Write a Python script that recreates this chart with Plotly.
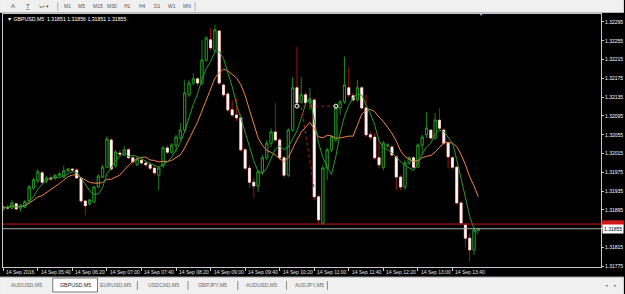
import plotly.graph_objects as go
import pandas as pd

# ---------------- data (GBPUSD, M5, 14 Sep 2016) ----------------
opens = [1.31897, 1.31901, 1.31899, 1.31908, 1.31899, 1.31901, 1.31914, 1.31942, 1.31957, 1.31974,
         1.31957, 1.31963, 1.31963, 1.31969, 1.31965, 1.31978, 1.31982, 1.31980, 1.31963, 1.31914,
         1.31908, 1.31912, 1.31944, 1.31965, 1.31986, 1.32044, 1.31989, 1.32016, 1.32012, 1.32023,
         1.32006, 1.31991, 1.32001, 1.31995, 1.31991, 1.31984, 1.31969, 1.31989, 1.32027, 1.32018,
         1.32033, 1.32048, 1.32065, 1.32140, 1.32165, 1.32174, 1.32165, 1.32214, 1.32257, 1.32235,
         1.32276, 1.32161, 1.32142, 1.32108, 1.32097, 1.32091, 1.32023, 1.31984, 1.31954, 1.31946,
         1.31976, 1.32006, 1.32037, 1.32061, 1.32044, 1.32006, 1.31969, 1.32065, 1.32155, 1.32125,
         1.32140, 1.32123, 1.32129, 1.31923, 1.31867, 1.31984, 1.32023, 1.32044, 1.32112, 1.32125,
         1.32155, 1.32138, 1.32129, 1.32155, 1.32112, 1.32055, 1.32050, 1.32006, 1.31986, 1.32031,
         1.32029, 1.32008, 1.31965, 1.31944, 1.31995, 1.32006, 1.31986, 1.32033, 1.32055, 1.32065,
         1.32048, 1.32086, 1.32065, 1.32037, 1.32006, 1.31986, 1.31910, 1.31863, 1.31835, 1.31810,
         1.31851]
highs = [1.31904, 1.31906, 1.31916, 1.31910, 1.31908, 1.31916, 1.31948, 1.31963, 1.31982, 1.31978,
         1.31967, 1.31969, 1.31971, 1.31976, 1.31989, 1.31984, 1.31984, 1.31984, 1.31965, 1.31916,
         1.31918, 1.31946, 1.31971, 1.31991, 1.32052, 1.32048, 1.32023, 1.32023, 1.32031, 1.32027,
         1.32010, 1.32008, 1.32006, 1.31999, 1.31995, 1.31989, 1.31989, 1.32031, 1.32033, 1.32037,
         1.32055, 1.32080, 1.32172, 1.32172, 1.32186, 1.32178, 1.32257, 1.32265, 1.32282, 1.32289,
         1.32278, 1.32165, 1.32146, 1.32129, 1.32133, 1.32101, 1.32027, 1.31991, 1.31963, 1.31980,
         1.32012, 1.32044, 1.32069, 1.32123, 1.32048, 1.32010, 1.32069, 1.32178, 1.32242, 1.32178,
         1.32146, 1.32155, 1.32133, 1.31927, 1.31991, 1.32027, 1.32055, 1.32118, 1.32129, 1.32221,
         1.32199, 1.32144, 1.32172, 1.32159, 1.32140, 1.32061, 1.32059, 1.32044, 1.32042, 1.32037,
         1.32033, 1.32012, 1.31969, 1.32001, 1.32010, 1.32010, 1.32037, 1.32055, 1.32103, 1.32067,
         1.32101, 1.32112, 1.32069, 1.32042, 1.32010, 1.31991, 1.31914, 1.31867, 1.31846, 1.31857,
         1.31856]
lows = [1.31893, 1.31895, 1.31897, 1.31893, 1.31891, 1.31899, 1.31912, 1.31937, 1.31952, 1.31950,
        1.31952, 1.31957, 1.31959, 1.31965, 1.31963, 1.31976, 1.31976, 1.31961, 1.31910, 1.31884,
        1.31904, 1.31910, 1.31942, 1.31963, 1.31984, 1.31978, 1.31984, 1.32010, 1.32010, 1.32003,
        1.31993, 1.31989, 1.31991, 1.31986, 1.31980, 1.31969, 1.31937, 1.31984, 1.32014, 1.32014,
        1.32018, 1.32044, 1.32061, 1.32135, 1.32161, 1.32159, 1.32161, 1.32210, 1.32235, 1.32231,
        1.32161, 1.32135, 1.32103, 1.32093, 1.32084, 1.32018, 1.31980, 1.31942, 1.31920, 1.31933,
        1.31969, 1.32001, 1.32029, 1.32040, 1.32001, 1.31963, 1.31965, 1.32061, 1.32118, 1.32121,
        1.32118, 1.32108, 1.31916, 1.31867, 1.31863, 1.31959, 1.32018, 1.32040, 1.32097, 1.32121,
        1.32135, 1.32125, 1.32127, 1.32108, 1.32050, 1.32044, 1.32001, 1.31984, 1.31980, 1.32027,
        1.32008, 1.31937, 1.31937, 1.31937, 1.31991, 1.31984, 1.31984, 1.32014, 1.32048, 1.32044,
        1.32044, 1.32065, 1.32033, 1.31984, 1.31982, 1.31906, 1.31863, 1.31816, 1.31784, 1.31799,
        1.31851]
closes = [1.31901, 1.31899, 1.31910, 1.31897, 1.31904, 1.31912, 1.31944, 1.31959, 1.31976, 1.31954,
          1.31963, 1.31961, 1.31969, 1.31971, 1.31978, 1.31982, 1.31980, 1.31963, 1.31914, 1.31904,
          1.31916, 1.31944, 1.31967, 1.31986, 1.32046, 1.31982, 1.32018, 1.32014, 1.32023, 1.32006,
          1.31997, 1.32003, 1.31995, 1.31991, 1.31984, 1.31974, 1.31984, 1.32027, 1.32018, 1.32033,
          1.32050, 1.32065, 1.32144, 1.32165, 1.32174, 1.32165, 1.32214, 1.32261, 1.32240, 1.32278,
          1.32165, 1.32140, 1.32108, 1.32097, 1.32091, 1.32023, 1.31984, 1.31954, 1.31946, 1.31976,
          1.32006, 1.32037, 1.32061, 1.32044, 1.32006, 1.31969, 1.32065, 1.32155, 1.32123, 1.32140,
          1.32123, 1.32129, 1.31923, 1.31874, 1.31984, 1.32023, 1.32050, 1.32112, 1.32125, 1.32161,
          1.32140, 1.32129, 1.32155, 1.32112, 1.32055, 1.32050, 1.32006, 1.31991, 1.32037, 1.32033,
          1.32012, 1.31965, 1.31944, 1.31995, 1.32006, 1.31986, 1.32033, 1.32050, 1.32069, 1.32048,
          1.32086, 1.32069, 1.32037, 1.32008, 1.31986, 1.31910, 1.31867, 1.31835, 1.31810, 1.31852,
          1.31855]

symbol = "GBPUSD,M5"
ask_price = 1.31865
times = pd.date_range("2016-09-14 05:00", periods=len(opens), freq="5min")

tick_times = ["2016-09-14 05:00", "2016-09-14 05:40", "2016-09-14 06:20", "2016-09-14 07:00",
              "2016-09-14 07:40", "2016-09-14 08:20", "2016-09-14 09:00", "2016-09-14 09:40",
              "2016-09-14 10:20", "2016-09-14 11:00", "2016-09-14 11:40", "2016-09-14 12:20",
              "2016-09-14 13:00", "2016-09-14 13:40"]
tick_labels = ["14 Sep 2016", "14 Sep 05:40", "14 Sep 06:20", "14 Sep 07:00", "14 Sep 07:40",
               "14 Sep 08:20", "14 Sep 09:00", "14 Sep 09:40", "14 Sep 10:20", "14 Sep 11:00",
               "14 Sep 11:40", "14 Sep 12:20", "14 Sep 13:00", "14 Sep 13:40"]
price_ticks = [1.32295, 1.32255, 1.32215, 1.32175, 1.32135, 1.32095, 1.32055, 1.32015,
               1.31975, 1.31935, 1.31895, 1.31855, 1.31815, 1.31775]

trade_open_times = ["2016-09-14 10:40", "2016-09-14 10:45"]
trade_open_prices = [1.32116, 1.32114]
trade_close_times = ["2016-09-14 11:25", "2016-09-14 11:00"]
trade_close_prices = [1.32116, 1.31940]

periods = ["M1", "M5", "M15", "M30", "H1", "H4", "D1", "W1", "MN"]
tabs = ["AUDUSD,M5", "GBPUSD,M5", "EURUSD,M5", "USDCAD,M5", "GBPJPY,M5", "AUDUSD,M5", "AUDJPY,M5"]

# ---------------- geometry helpers (pixels -> paper) ----------------
L, R, T, B = 2, 603, 14, 267
def px(x):
    return (x - L) / (R - L)
def py(y):
    return (B - y) / (B - T)

FONT = "Liberation Sans"
GREEN = "#26a526"
RED = "#c81a1a"

close_s = pd.Series(closes)
ma_fast = close_s.rolling(5, min_periods=1).mean()
ma_slow = close_s.rolling(10, min_periods=1).mean()
body_top = [max(o, c) for o, c in zip(opens, closes)]
body_bot = [min(o, c) for o, c in zip(opens, closes)]

fig = go.Figure()
# full candles (wicks red / green)
fig.add_trace(go.Candlestick(
    x=times, open=opens, high=highs, low=lows, close=closes,
    increasing=dict(line=dict(color=GREEN, width=0.8), fillcolor="black"),
    decreasing=dict(line=dict(color=RED, width=0.8), fillcolor="white"),
    whiskerwidth=0, hoverinfo="skip", showlegend=False))
# bodies redrawn on top so bear bodies read white
fig.add_trace(go.Candlestick(
    x=times, open=opens, high=body_top, low=body_bot, close=closes,
    increasing=dict(line=dict(color=GREEN, width=0.8), fillcolor="black"),
    decreasing=dict(line=dict(color="#fbeaea", width=0.6), fillcolor="white"),
    whiskerwidth=0, hoverinfo="skip", showlegend=False))
fig.add_trace(go.Scatter(x=times, y=ma_slow, mode="lines",
                         line=dict(color="#ee8446", width=1), showlegend=False, hoverinfo="skip"))
fig.add_trace(go.Scatter(x=times, y=ma_fast, mode="lines",
                         line=dict(color="#2a9a2a", width=1), showlegend=False, hoverinfo="skip"))
for ot, op, ct, cp in zip(trade_open_times, trade_open_prices, trade_close_times, trade_close_prices):
    fig.add_trace(go.Scatter(x=[ot, ct], y=[op, cp], mode="lines",
                             line=dict(color="#c02020", width=1, dash="dot"),
                             showlegend=False, hoverinfo="skip"))
fig.add_trace(go.Scatter(x=[trade_open_times[0], trade_close_times[0]],
                         y=[trade_open_prices[0], trade_close_prices[0]], mode="markers",
                         marker=dict(symbol="circle-open", size=4, color="white", line=dict(width=1)),
                         showlegend=False, hoverinfo="skip"))

shapes = []
# ask / bid lines
shapes.append(dict(type="line", xref="paper", yref="y", x0=0, x1=1, y0=ask_price, y1=ask_price,
                   line=dict(color="#c81818", width=1)))
shapes.append(dict(type="line", xref="paper", yref="y", x0=0, x1=1, y0=closes[-1], y1=closes[-1],
                   line=dict(color="#a8b0b0", width=1)))
shapes.append(dict(type="rect", xref="paper", yref="y", x0=px(603.5), x1=px(626),
                   y0=ask_price - 0.00007, y1=ask_price + 0.00008,
                   fillcolor="#d01818", line=dict(width=0)))
# toolbar
shapes.append(dict(type="rect", xref="paper", yref="paper", x0=px(-1), x1=px(626), y0=py(12.5), y1=py(-1),
                   fillcolor="#f0f0f0", line=dict(width=0), layer="above"))
shapes.append(dict(type="line", xref="paper", yref="paper", x0=px(-1), x1=px(626), y0=py(12.5), y1=py(12.5),
                   line=dict(color="#b8b8b8", width=1), layer="above"))
for sx in [57, 195]:
    shapes.append(dict(type="line", xref="paper", yref="paper", x0=px(sx), x1=px(sx), y0=py(2), y1=py(11),
                       line=dict(color="#b0b0b0", width=1), layer="above"))
# tab bar
shapes.append(dict(type="rect", xref="paper", yref="paper", x0=px(-1), x1=px(626), y0=py(295), y1=py(277),
                   fillcolor="#f0f0f0", line=dict(width=0), layer="above"))
shapes.append(dict(type="line", xref="paper", yref="paper", x0=px(-1), x1=px(626), y0=py(277), y1=py(277),
                   line=dict(color="#a0a0a0", width=1), layer="above"))
shapes.append(dict(type="rect", xref="paper", yref="paper", x0=px(52), x1=px(97), y0=py(292), y1=py(278),
                   fillcolor="white", line=dict(color="#7a7a7a", width=1), layer="above"))
for sx in [137, 188, 238, 287, 328]:
    shapes.append(dict(type="line", xref="paper", yref="paper", x0=px(sx), x1=px(sx), y0=py(290), y1=py(281),
                       line=dict(color="#8a8a8a", width=1), layer="above"))

ann = []
def text(x, y, s, size=5, color="#d8d8d8", anchor="left", **kw):
    ann.append(dict(x=px(x), y=py(y), xref="paper", yref="paper", text=s, showarrow=False,
                    xanchor=anchor, yanchor="middle", font=dict(family=FONT, size=size, color=color), **kw))

# toolbar items
text(12, 6, "A", 6, "#555", "center")
text(27, 6, "<u>T</u>", 6, "#555", "center")
text(43, 6, "↘+ ▾", 5, "#555", "center")
for name, cx in zip(periods, [67, 81, 97, 112, 127, 142, 157, 172, 187]):
    text(cx, 6, name, 5, "#555", "center")
# header
text(4, 19, "▼ " + symbol + "  " + " ".join(f"{v:.5f}" for v in (opens[-1], highs[-1], lows[-1], closes[-1])),
     5.2, "white")
# chart shift marker
text(482, 15, "▼", 4, "#c8c8c8", "center")
# tabs
for k, (name, cx) in enumerate(zip(tabs, [26, 75, 115, 163, 213, 262, 310])):
    text(cx, 285, name, 5.3, "#222" if k == 1 else "#6a6a6a", "center")
text(609, 285, "◂", 5, "#888", "center")
text(618, 285, "▸", 5, "#888", "center")
# time labels
for t, lab in zip(tick_times, tick_labels):
    ann.append(dict(x=t, y=py(272), xref="x", yref="paper", text=lab, showarrow=False,
                    xanchor="left", yanchor="middle", xshift=1,
                    font=dict(family=FONT, size=5, color="#e0e0e0")))
# current price label
ann.append(dict(x=1, y=closes[-1], xref="paper", yref="y", text=f"{closes[-1]:.5f}", showarrow=False,
                xanchor="left", yanchor="middle", xshift=1, bgcolor="white", borderpad=1,
                font=dict(family=FONT, size=5, color="black")))

fig.update_layout(
    width=625, height=294,
    margin=dict(l=L, r=625 - R, t=T, b=294 - B),
    paper_bgcolor="black", plot_bgcolor="black",
    shapes=shapes, annotations=ann,
    font=dict(family=FONT, size=5, color="white"),
    xaxis=dict(type="date", range=["2016-09-14 04:59:40", "2016-09-14 16:32"],
               showgrid=False, zeroline=False, showline=True, mirror=True, linecolor="#c8c8c8",
               linewidth=1, ticks="outside", ticklen=3, tickcolor="#c8c8c8", tickvals=tick_times,
               showticklabels=False, rangeslider=dict(visible=False), fixedrange=True),
    yaxis=dict(side="right", range=[1.317736, 1.323120], showgrid=False, zeroline=False,
               showline=True, mirror=True, linecolor="#c8c8c8", linewidth=1,
               ticks="outside", ticklen=2, tickcolor="#c8c8c8", tickvals=price_ticks,
               ticktext=[f"{v:.5f}" for v in price_ticks],
               tickfont=dict(family=FONT, size=5, color="white"), fixedrange=True),
)
fig.write_html("out.html")
